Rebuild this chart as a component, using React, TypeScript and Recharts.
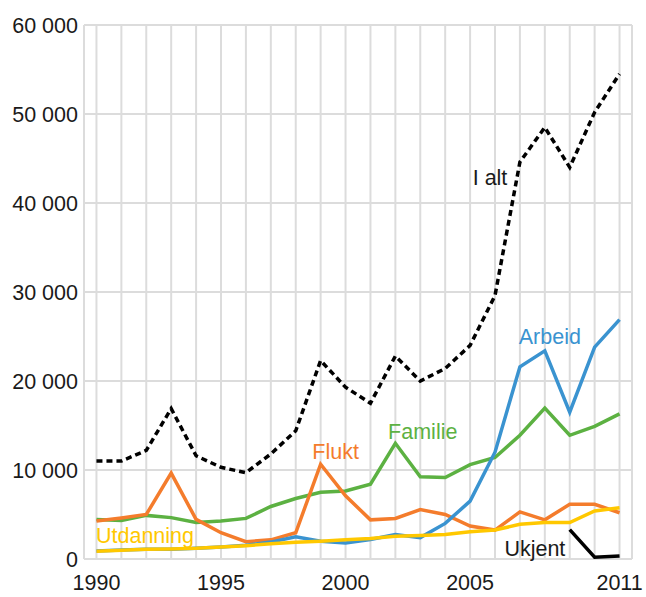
import { CartesianGrid, Line, LineChart, ReferenceDot, XAxis, YAxis } from 'recharts'

const years = [
  1990, 1991, 1992, 1993, 1994, 1995, 1996, 1997, 1998, 1999, 2000,
  2001, 2002, 2003, 2004, 2005, 2006, 2007, 2008, 2009, 2010, 2011,
]
const iAlt = [
  11000, 11000, 12200, 16900, 11600, 10300, 9700, 11800, 14400, 22300, 19300,
  17500, 22800, 20000, 21400, 24000, 29600, 44600, 48500, 44000, 50200, 54500,
]
const arbeid = [
  900, 1000, 1100, 1100, 1200, 1350, 1550, 1900, 2500, 2000, 1800,
  2200, 2750, 2400, 4000, 6500, 12000, 21600, 23400, 16500, 23800, 26900,
]
const familie = [
  4450, 4330, 4900, 4650, 4100, 4260, 4560, 5900, 6800, 7500, 7650,
  8400, 13000, 9250, 9150, 10600, 11400, 13900, 16950, 13900, 14900, 16300,
]
const flukt = [
  4260, 4600, 5000, 9650, 4450, 2950, 1950, 2150, 2950, 10650, 7100,
  4400, 4550, 5550, 5000, 3700, 3250, 5300, 4400, 6150, 6150, 5200,
]
const utdanning = [
  870, 980, 1100, 1130, 1200, 1350, 1500, 1700, 1880, 2000, 2150,
  2300, 2550, 2650, 2750, 3050, 3250, 3900, 4100, 4100, 5400, 5750,
]
const ukjent = [
  null, null, null, null, null, null, null, null, null, null, null,
  null, null, null, null, null, null, null, null, 3300, 200, 350,
]
const yTicks = [0, 10000, 20000, 30000, 40000, 50000, 60000]
const xLabels = [1990, 1995, 2000, 2005, 2011]

const data = years.map((year, i) => ({
  year,
  iAlt: iAlt[i],
  arbeid: arbeid[i],
  familie: familie[i],
  flukt: flukt[i],
  utdanning: utdanning[i],
  ukjent: ukjent[i],
}))

const font = '"Liberation Sans", Arial, sans-serif'
const fmt = (v: number) => String(v).replace(/\B(?=(\d{3})+(?!\d))/g, ' ')

function XTick(props: any) {
  const { x, y, payload } = props
  if (!xLabels.includes(payload.value)) return <g />
  return (
    <text x={x} y={y} dy={29} textAnchor="middle" fontSize={21.5} fontFamily={font} fill="#1a1a1a">
      {payload.value}
    </text>
  )
}

function tag(value: string, color: string) {
  return { value, position: 'center' as const, fill: color, fontSize: 21.5, fontFamily: font }
}

export default function App() {
  return (
    <div style={{ position: 'absolute', left: 0, top: 0, width: 646, height: 597, background: '#fff' }}>
      <LineChart width={646} height={597} data={data} margin={{ top: 25, right: 14, left: 0, bottom: 0 }}>
        <CartesianGrid stroke="#dcdcdc" strokeWidth={2} />
        <XAxis
          dataKey="year"
          type="number"
          domain={[1989.5, 2011.5]}
          ticks={years}
          interval={0}
          height={38}
          axisLine={false}
          tickLine={false}
          tickSize={0}
          tick={<XTick />}
        />
        <YAxis
          domain={[0, 60000]}
          ticks={yTicks}
          width={84}
          axisLine={{ stroke: '#dcdcdc', strokeWidth: 2 }}
          tickLine={false}
          tickSize={0}
          tickMargin={6}
          tickFormatter={fmt}
          tick={{ fontSize: 21.5, fontFamily: font, fill: '#1a1a1a' }}
        />
        <Line dataKey="iAlt" stroke="#000" strokeWidth={3.5} strokeDasharray="6 4" dot={false} isAnimationActive={false} />
        <Line dataKey="familie" stroke="#5cb142" strokeWidth={3.5} dot={false} isAnimationActive={false} />
        <Line dataKey="flukt" stroke="#f47c2c" strokeWidth={3.5} dot={false} isAnimationActive={false} />
        <Line dataKey="arbeid" stroke="#3a93d0" strokeWidth={3.5} dot={false} isAnimationActive={false} />
        <Line dataKey="utdanning" stroke="#ffc800" strokeWidth={3.5} dot={false} isAnimationActive={false} />
        <Line dataKey="ukjent" stroke="#000" strokeWidth={3.5} dot={false} isAnimationActive={false} />
        <ReferenceDot x={2005.8} y={42900} r={0} label={tag('I alt', '#1a1a1a')} />
        <ReferenceDot x={2008.2} y={25000} r={0} label={tag('Arbeid', '#3a93d0')} />
        <ReferenceDot x={2003.1} y={14300} r={0} label={tag('Familie', '#5cb142')} />
        <ReferenceDot x={1999.6} y={12050} r={0} label={tag('Flukt', '#f47c2c')} />
        <ReferenceDot x={1991.95} y={2700} r={0} label={tag('Utdanning', '#ffc800')} />
        <ReferenceDot x={2007.6} y={1240} r={0} label={tag('Ukjent', '#1a1a1a')} />
      </LineChart>
    </div>
  )
}
